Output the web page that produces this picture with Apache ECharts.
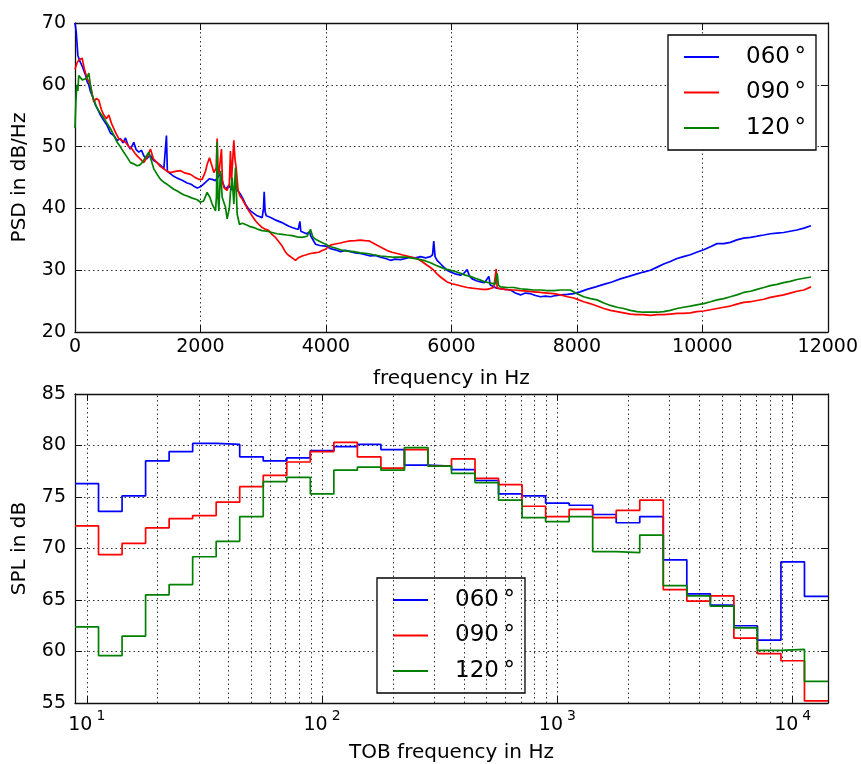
<!DOCTYPE html>
<html><head><meta charset="utf-8">
<script src="https://cdn.jsdelivr.net/npm/echarts@6/dist/echarts.min.js"></script>
<style>html,body{margin:0;padding:0;background:#fff}#c{width:861px;height:764px}</style>
</head><body><div id="c"></div>
<script>
const seriesLabels = ['060', '090', '120'];
const seriesColors = ['#0000ff', '#ff0000', '#008000'];

// PSD (top) : [frequency Hz, dB/Hz]
const psd060 = [[0,70.0],[20,68.5],[45,64.8],[70,64.0],[88,63.7],[115,63.0],[141,63.2],[170,61.5],[194,60.5],[220,60.0],[247,58.9],[285,58.0],[327,56.7],[365,56.0],[406,55.1],[460,54.2],[513,53.4],[565,52.2],[619,51.8],[670,51.0],[725,51.3],[765,50.6],[805,51.4],[845,50.2],[884,49.6],[937,50.7],[975,49.5],[1017,49.1],[1060,49.4],[1097,48.5],[1140,48.0],[1200,48.6],[1250,47.8],[1309,47.4],[1360,47.0],[1416,46.4],[1445,46.2],[1458,51.8],[1472,46.0],[1490,45.8],[1560,45.3],[1628,44.9],[1700,44.6],[1788,44.1],[1850,43.9],[1894,43.6],[1950,43.3],[2000,43.5],[2080,44.2],[2140,44.8],[2186,44.7],[2240,44.5],[2290,45.2],[2319,45.6],[2360,44.0],[2399,43.1],[2452,43.7],[2500,43.0],[2558,43.4],[2600,42.8],[2638,42.3],[2680,41.5],[2718,40.7],[2760,40.0],[2798,39.6],[2850,39.2],[2904,38.8],[2984,38.5],[3005,40.0],[3016,42.7],[3030,39.5],[3048,38.8],[3100,38.6],[3143,38.4],[3200,38.1],[3250,37.9],[3300,37.7],[3356,37.4],[3410,37.1],[3462,36.9],[3520,36.7],[3560,36.6],[3585,37.9],[3600,36.3],[3622,36.1],[3690,35.9],[3740,36.2],[3755,35.6],[3800,34.8],[3835,34.2],[3900,34.0],[3994,33.9],[4072,33.5],[4150,33.3],[4231,33.0],[4310,33.2],[4390,33.0],[4470,32.8],[4550,32.7],[4630,32.5],[4709,32.3],[4790,32.4],[4869,32.1],[4950,31.9],[5028,31.6],[5100,31.8],[5188,31.7],[5270,31.9],[5347,32.1],[5430,32.0],[5507,32.2],[5590,32.0],[5666,32.2],[5700,32.5],[5719,34.7],[5740,32.2],[5772,31.6],[5830,31.0],[5879,30.5],[5930,30.0],[5985,29.7],[6060,29.4],[6145,29.2],[6200,29.5],[6251,30.1],[6290,29.0],[6331,28.6],[6400,28.3],[6464,28.1],[6530,28.0],[6597,29.0],[6620,27.6],[6650,27.3],[6720,27.1],[6783,27.0],[6860,26.9],[6943,26.8],[7020,26.3],[7102,26.0],[7180,26.3],[7261,26.2],[7340,25.9],[7421,25.7],[7500,25.8],[7580,25.7],[7660,25.9],[7740,26.0],[7850,26.1],[7949,26.2],[8050,26.5],[8162,26.9],[8300,27.3],[8428,27.7],[8560,28.1],[8693,28.6],[8830,29.0],[8959,29.4],[9060,29.7],[9172,30.0],[9280,30.5],[9384,31.0],[9490,31.4],[9597,31.9],[9700,32.2],[9809,32.5],[9910,32.9],[10022,33.3],[10130,33.8],[10234,34.3],[10340,34.3],[10447,34.5],[10550,34.9],[10659,35.2],[10770,35.3],[10872,35.5],[10980,35.7],[11084,35.9],[11190,36.0],[11297,36.1],[11400,36.3],[11509,36.5],[11620,36.8],[11732,37.2]];
const psd090 = [[0,62.5],[30,63.5],[60,64.0],[114,64.3],[150,62.5],[194,61.0],[220,60.5],[247,59.9],[275,58.5],[300,57.2],[340,57.8],[380,57.5],[420,56.0],[459,55.1],[500,54.5],[539,55.1],[580,53.8],[619,52.9],[660,52.0],[698,51.3],[750,51.0],[805,50.7],[860,50.0],[910,49.6],[950,49.0],[990,48.5],[1040,48.0],[1097,47.4],[1150,48.3],[1203,49.6],[1250,48.0],[1309,47.4],[1360,46.8],[1416,46.4],[1470,46.0],[1522,45.8],[1600,46.0],[1681,46.1],[1760,45.7],[1841,45.5],[1900,45.1],[1973,44.7],[2027,44.7],[2080,46.0],[2106,47.1],[2144,48.2],[2180,47.0],[2213,45.8],[2250,46.5],[2266,51.3],[2280,46.0],[2293,45.5],[2335,49.6],[2350,44.5],[2372,43.4],[2425,42.9],[2460,44.0],[2478,49.3],[2495,44.5],[2505,44.5],[2532,51.0],[2550,48.0],[2569,46.6],[2600,42.9],[2630,42.0],[2665,41.5],[2720,40.5],[2771,39.6],[2830,38.7],[2877,38.0],[2930,37.4],[2984,36.9],[3040,36.6],[3090,36.4],[3140,35.8],[3196,35.3],[3250,34.6],[3302,33.9],[3340,33.2],[3382,32.6],[3420,32.3],[3462,32.0],[3515,31.6],[3560,32.0],[3622,32.3],[3690,32.5],[3755,32.7],[3820,32.8],[3888,32.9],[3940,33.2],[3994,33.4],[4072,34.05],[4127,34.2],[4231,34.4],[4310,34.6],[4390,34.75],[4470,34.8],[4550,34.86],[4620,34.8],[4683,34.75],[4750,34.4],[4816,34.05],[4900,33.6],[4975,33.2],[5050,32.9],[5135,32.7],[5210,32.5],[5294,32.3],[5370,32.1],[5454,31.9],[5530,31.4],[5613,30.8],[5670,30.4],[5719,30.0],[5770,29.4],[5826,28.9],[5880,28.5],[5932,28.1],[6010,27.8],[6092,27.6],[6170,27.4],[6251,27.2],[6330,27.1],[6411,27.0],[6490,26.9],[6570,26.9],[6677,27.2],[6700,27.0],[6714,30.2],[6730,27.1],[6756,27.0],[6850,26.9],[6943,26.8],[7020,26.8],[7102,26.7],[7210,26.6],[7315,26.5],[7420,26.4],[7527,26.3],[7630,26.2],[7740,26.0],[7850,25.7],[7952,25.5],[8030,25.2],[8109,24.9],[8210,24.6],[8321,24.2],[8430,23.8],[8534,23.5],[8640,23.3],[8746,23.1],[8850,22.9],[8959,22.8],[9060,22.8],[9172,22.7],[9280,22.8],[9384,22.8],[9490,22.9],[9597,23.0],[9700,23.0],[9809,23.1],[9910,23.3],[10022,23.4],[10130,23.6],[10234,23.8],[10340,24.0],[10447,24.2],[10550,24.5],[10659,24.8],[10770,24.9],[10872,25.1],[10980,25.3],[11084,25.6],[11190,25.8],[11297,26.0],[11400,26.3],[11509,26.6],[11620,26.8],[11732,27.3]];
const psd120 = [[0,53.0],[15,57.5],[30,60.0],[45,59.0],[60,61.5],[88,61.6],[115,60.8],[141,60.5],[180,61.0],[221,61.9],[245,60.0],[273,58.3],[310,57.3],[353,56.2],[400,55.5],[459,54.6],[510,53.8],[566,52.9],[620,51.8],[672,50.7],[720,50.0],[778,49.1],[830,48.3],[884,47.4],[940,47.2],[990,46.9],[1030,47.0],[1070,47.4],[1120,48.2],[1177,49.1],[1215,47.8],[1256,46.4],[1310,45.5],[1363,44.7],[1420,44.2],[1469,43.9],[1520,43.5],[1575,43.1],[1630,42.8],[1681,42.5],[1730,42.2],[1788,42.0],[1860,41.7],[1947,41.4],[2000,41.0],[2050,41.2],[2106,42.6],[2150,41.8],[2186,40.7],[2240,39.6],[2255,42.0],[2266,50.8],[2278,42.0],[2293,39.6],[2319,46.1],[2346,41.8],[2399,40.2],[2425,38.3],[2460,40.0],[2478,42.6],[2505,45.0],[2532,40.7],[2558,46.6],[2585,39.1],[2622,37.4],[2670,37.6],[2718,37.4],[2780,37.1],[2851,36.9],[2920,36.6],[2984,36.4],[3060,36.3],[3143,36.1],[3220,35.9],[3302,35.8],[3380,35.7],[3462,35.6],[3540,35.4],[3622,35.3],[3700,35.5],[3755,36.6],[3790,35.4],[3835,35.0],[3910,34.6],[3994,34.2],[4072,33.8],[4150,33.6],[4231,33.3],[4340,33.1],[4444,33.0],[4550,32.8],[4656,32.7],[4760,32.5],[4869,32.3],[4970,32.2],[5081,32.1],[5190,32.1],[5294,32.1],[5400,31.9],[5507,31.7],[5590,31.5],[5666,31.2],[5750,30.8],[5826,30.5],[5900,30.2],[5985,30.0],[6060,29.8],[6145,29.5],[6220,29.2],[6304,29.0],[6380,28.7],[6464,28.4],[6540,28.1],[6624,27.9],[6700,27.8],[6730,29.5],[6750,27.6],[6783,27.3],[6890,27.2],[6996,27.2],[7100,27.0],[7208,26.9],[7310,26.8],[7421,26.8],[7530,26.7],[7634,26.7],[7740,26.8],[7846,26.8],[7896,26.8],[8005,26.2],[8109,25.7],[8220,25.4],[8321,25.2],[8430,24.7],[8534,24.3],[8640,24.0],[8746,23.8],[8850,23.5],[8959,23.3],[9060,23.2],[9172,23.2],[9280,23.2],[9384,23.3],[9490,23.5],[9597,23.8],[9700,24.0],[9809,24.2],[9910,24.4],[10022,24.6],[10130,24.9],[10234,25.2],[10340,25.4],[10447,25.7],[10550,26.0],[10659,26.4],[10770,26.6],[10872,26.9],[10980,27.2],[11084,27.5],[11190,27.7],[11297,28.0],[11400,28.2],[11509,28.5],[11620,28.7],[11732,28.9]];

// Third-octave bands (bottom)
const tobCenters = [10,12.5,16,20,25,31.5,40,50,63,80,100,125,160,200,250,315,400,500,630,800,1000,1250,1600,2000,2500,3150,4000,5000,6300,8000,10000,12500];
const spl060 = [76.3,73.6,75.1,78.5,79.4,80.2,80.1,78.9,78.5,78.8,79.5,79.9,80.1,79.6,78.1,78.0,77.65,76.6,75.3,75.1,74.4,74.2,73.3,72.5,73.1,68.9,65.6,64.5,62.5,61.1,68.7,65.35];
const spl090 = [72.2,69.4,70.5,72.0,72.9,73.2,74.5,76.0,77.1,78.4,79.4,80.3,78.9,77.8,79.6,78.0,78.7,76.8,76.2,74.1,73.1,73.8,73.0,73.7,74.7,66.0,64.9,65.4,61.3,59.8,59.1,55.2];
const spl120 = [62.4,59.6,61.5,65.5,66.5,69.2,70.7,73.1,76.5,76.9,75.3,77.6,77.9,77.6,79.8,78.0,77.3,76.4,74.7,73.0,72.6,73.1,69.7,69.6,71.3,66.4,65.4,64.4,62.3,60.1,60.2,57.1];

const FONT = 'DejaVu Sans';
const names = seriesLabels.map(l => l + '\u2009°');

function bandEdge(c, side) {
  const n = Math.round(10 * Math.log10(c));
  return Math.pow(10, (n + side * 0.5) / 10);
}
function stepData(vals) {
  const d = tobCenters.map((c, i) => [bandEdge(c, -1), vals[i]]);
  d.push([bandEdge(tobCenters[tobCenters.length - 1], 1), vals[vals.length - 1]]);
  return d;
}
const logMin = bandEdge(tobCenters[0], -1);
const logMax = bandEdge(tobCenters[tobCenters.length - 1], 1);
const minorGrid = [];
for (let dec = 10; dec <= 1000; dec *= 10) for (let k = 2; k <= 9; k++) minorGrid.push(dec * k);

const gridLine = { show: true, lineStyle: { color: '#333', width: 1, type: [1.5, 3] } };
const frameLine = { show: true, onZero: false, lineStyle: { color: '#111', width: 1.3 } };
const tickIn = { show: true, inside: true, length: 7, lineStyle: { color: '#111', width: 1 } };
const lbl = { fontFamily: FONT, fontSize: 19, color: '#000' };
const nameStyle = { fontFamily: FONT, fontSize: 20, color: '#000' };

function mirrorAxis(base, pos) {
  return Object.assign({}, base, {
    position: pos, name: '', axisLabel: { show: false }, splitLine: { show: false }
  });
}

const topX = { type: 'value', gridIndex: 0, min: 0, max: 12000, interval: 2000,
  axisLine: frameLine, axisTick: tickIn, splitLine: gridLine,
  axisLabel: Object.assign({ margin: 6, formatter: v => String(v) }, lbl),
  name: 'frequency in Hz', nameLocation: 'middle', nameGap: 37,
  nameTextStyle: nameStyle };
const topY = { type: 'value', gridIndex: 0, min: 20, max: 70, interval: 10,
  axisLine: frameLine, axisTick: tickIn, splitLine: gridLine,
  axisLabel: Object.assign({ margin: 9 }, lbl),
  name: 'PSD in dB/Hz', nameLocation: 'middle', nameGap: 45,
  nameTextStyle: nameStyle };
const botX = { type: 'log', logBase: 10, gridIndex: 1, min: logMin, max: logMax,
  axisLine: frameLine, axisTick: tickIn, splitLine: gridLine,
  axisLabel: Object.assign({ margin: 6, showMinLabel: false, showMaxLabel: false,
    formatter: v => '{b|10}{s|' + Math.round(Math.log10(v)) + '}',
    rich: { b: { fontFamily: FONT, fontSize: 19, color: '#000', lineHeight: 26, verticalAlign: 'bottom' },
            s: { fontFamily: FONT, fontSize: 14, color: '#000', lineHeight: 26, verticalAlign: 'top', padding: [0, 0, 0, 4] } } }, lbl),
  name: 'TOB frequency in Hz', nameLocation: 'middle', nameGap: 40,
  nameTextStyle: nameStyle };
const botY = { type: 'value', gridIndex: 1, min: 55, max: 85, interval: 5,
  axisLine: frameLine, axisTick: tickIn, splitLine: gridLine,
  axisLabel: Object.assign({ margin: 9 }, lbl),
  name: 'SPL in dB', nameLocation: 'middle', nameGap: 45,
  nameTextStyle: nameStyle };

function legendAt(left, top) {
  return {
    data: names.map((n, i) => ({ name: n, icon: 'rect', itemStyle: { color: seriesColors[i] } })),
    orient: 'vertical', left: left, top: top,
    padding: [10, 10, 10, 16], itemWidth: 35, itemHeight: 2, itemGap: 11.5,
    borderColor: '#000', borderWidth: 1.3, backgroundColor: '#fff', borderRadius: 0,
    textStyle: { fontFamily: FONT, fontSize: 23, lineHeight: 24, color: '#000', padding: [0, 0, 0, 22] },
    selectedMode: false
  };
}

const series = [];
[psd060, psd090, psd120].forEach((d, i) => series.push({
  name: names[i], type: 'line', xAxisIndex: 0, yAxisIndex: 0, data: d,
  symbol: 'none', showSymbol: false, lineStyle: { color: seriesColors[i], width: 1.7 },
  itemStyle: { color: seriesColors[i] }, animation: false
}));
[spl060, spl090, spl120].forEach((v, i) => {
  const s = {
    name: names[i], type: 'line', xAxisIndex: 2, yAxisIndex: 2, data: stepData(v), step: 'end',
    symbol: 'none', showSymbol: false, lineStyle: { color: seriesColors[i], width: 1.7 },
    itemStyle: { color: seriesColors[i] }, animation: false
  };
  if (i === 0) {
    s.markLine = { silent: true, symbol: ['none', 'none'], label: { show: false },
      lineStyle: { color: '#333', width: 1, type: [1.5, 3] }, animation: false,
      data: minorGrid.map(x => ({ xAxis: x })) };
  }
  series.push(s);
});

const chart = echarts.init(document.getElementById('c'), null, { renderer: 'canvas' });
chart.setOption({
  backgroundColor: '#fff',
  animation: false,
  textStyle: { fontFamily: FONT },
  grid: [
    { left: 75, right: 33, top: 23, height: 309 },
    { left: 75, right: 33, top: 394, height: 309 }
  ],
  xAxis: [topX, mirrorAxis(topX, 'top'), botX, mirrorAxis(botX, 'top')].map((a, i) => Object.assign({}, a, { gridIndex: i < 2 ? 0 : 1 })),
  yAxis: [topY, mirrorAxis(topY, 'right'), botY, mirrorAxis(botY, 'right')].map((a, i) => Object.assign({}, a, { gridIndex: i < 2 ? 0 : 1 })),
  legend: [legendAt(668, 35), legendAt(377, 578)],
  series: series
});
</script></body></html>
